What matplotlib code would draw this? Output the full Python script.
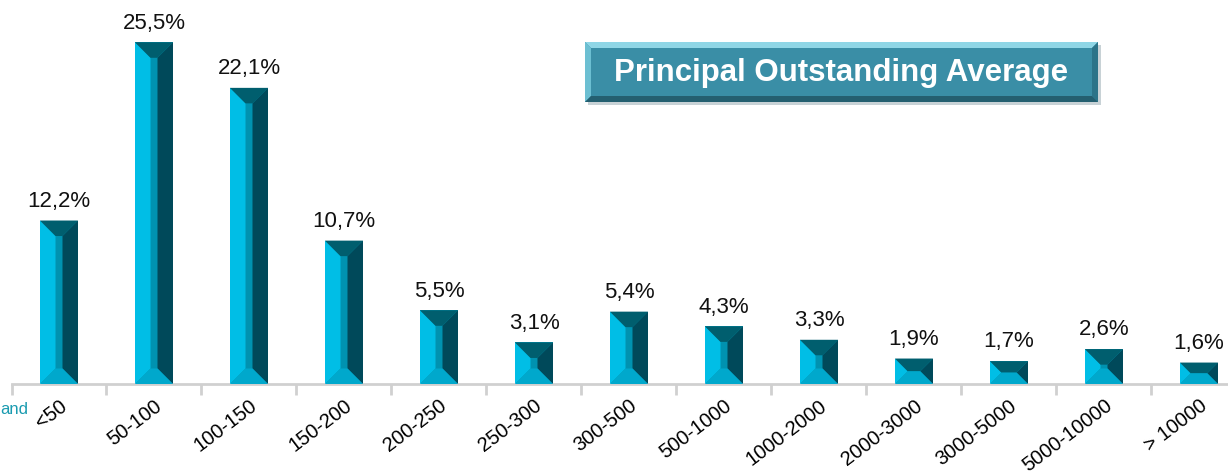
import matplotlib.pyplot as plt
from matplotlib.patches import Polygon, Rectangle

categories = ["<50", "50-100", "100-150", "150-200", "200-250", "250-300", "300-500",
              "500-1000", "1000-2000", "2000-3000", "3000-5000", "5000-10000", "> 10000"]
shares = [12.2, 25.5, 22.1, 10.7, 5.5, 3.1, 5.4, 4.3, 3.3, 1.9, 1.7, 2.6, 1.6]
title = "Principal Outstanding Average"

W, H = 1228, 477
plt.rcParams["font.family"] = ["Liberation Sans", "DejaVu Sans"]

fig = plt.figure(figsize=(W / 100, H / 100), dpi=100)
# axes spans 13 bins of ~95 px, starting at x=11.5px; baseline at 92px from bottom
ax_left, ax_w = 11.5, 13 * 95.0
ax_bot, ax_h = 92.0, 13.4 * 30
ax = fig.add_axes([ax_left / W, ax_bot / H, ax_w / W, ax_h / H])
ax.set_xlim(-0.5, len(categories) - 0.5)
ax.set_ylim(0, 30)

xpos = range(len(categories))
bars = ax.bar(xpos, shares, width=0.4, color="#0092B0", linewidth=0, zorder=2)

# bevelled faces on each bar
px_x = ax_w / len(categories)
px_y = ax_h / 30
for b in bars:
    x0, w, h = b.get_x(), b.get_width(), b.get_height()
    x1 = x0 + w
    d = min(15.5, h * px_y / 2, w * px_x / 2 - 2)
    dx, dy = d / px_x, d / px_y
    faces = [
        ([(x0, 0), (x0 + dx, dy), (x0 + dx, h - dy), (x0, h)], "#00BEE6"),
        ([(x1, 0), (x1 - dx, dy), (x1 - dx, h - dy), (x1, h)], "#00495A"),
        ([(x0, h), (x1, h), (x1 - dx, h - dy), (x0 + dx, h - dy)], "#005E6E"),
        ([(x0, 0), (x1, 0), (x1 - dx, dy), (x0 + dx, dy)], "#00A8CC"),
    ]
    for pts, c in faces:
        ax.add_patch(Polygon(pts, closed=True, facecolor=c, edgecolor="none", zorder=3))
    ax.annotate(f"{h:.1f}".replace(".", ",") + "%", (x0 + w / 2, h),
                xytext=(0, 7), textcoords="offset points", ha="center", va="bottom",
                fontsize=16, color="#111111")

for s in ["top", "right", "left"]:
    ax.spines[s].set_visible(False)
ax.spines["bottom"].set_color("#d0d0d0")
ax.spines["bottom"].set_linewidth(2)
ax.set_yticks([])
ax.set_xticks(list(xpos))
ax.set_xticklabels(categories, rotation=37, ha="right", va="top",
                   rotation_mode="anchor", fontsize=14.5)
ax.tick_params(axis="x", which="major", length=0, pad=8)
ax.set_xticks([i - 0.5 for i in xpos] + [len(categories) - 0.5], minor=True)
ax.tick_params(axis="x", which="minor", length=8, width=2, color="#d0d0d0")

fig.text(28 / W, (H - 410) / H, "and", color="#1A9BB0", fontsize=12,
         ha="right", va="center")

# title box with bevel
bx0, bx1, by0, by1 = 585, 1098, H - 103, H - 43
t = 6
fig.patches.append(Rectangle((bx0 + 3, by0 - 3), bx1 - bx0, by1 - by0,
                             transform=None, facecolor="#c8d2d6", edgecolor="none", zorder=1))
box_faces = [
    ([(bx0, by0), (bx1, by0), (bx1, by1), (bx0, by1)], "#3A8EA6"),
    ([(bx0, by1), (bx1, by1), (bx1 - t, by1 - t), (bx0 + t, by1 - t)], "#8FD6E6"),
    ([(bx0, by0), (bx0 + t, by0 + t), (bx0 + t, by1 - t), (bx0, by1)], "#6CBFD2"),
    ([(bx1, by0), (bx1 - t, by0 + t), (bx1 - t, by1 - t), (bx1, by1)], "#2C7489"),
    ([(bx0, by0), (bx1, by0), (bx1 - t, by0 + t), (bx0 + t, by0 + t)], "#245F70"),
]
for pts, c in box_faces:
    fig.patches.append(Polygon(pts, closed=True, transform=None, facecolor=c,
                               edgecolor="none", zorder=2))
fig.text((bx0 + bx1) / 2 / W, (by0 + by1) / 2 / H, title, color="white",
         fontsize=22.5, fontweight="bold", ha="center", va="center", zorder=3)

fig.savefig("out.png", dpi=100)
